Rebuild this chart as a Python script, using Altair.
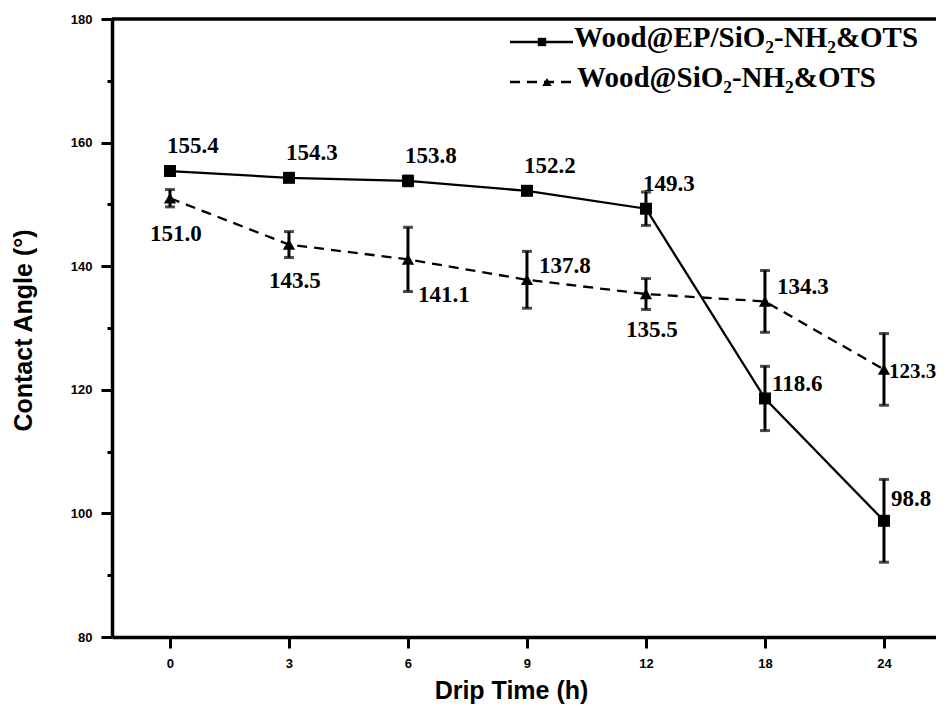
import altair as alt
import pandas as pd

# ---- data ----
times = ["0", "3", "6", "9", "12", "18", "24"]
series_names = ["Wood@EP/SiO₂-NH₂&OTS", "Wood@SiO₂-NH₂&OTS"]
s1_values = [155.4, 154.3, 153.8, 152.2, 149.3, 118.6, 98.8]
s1_errors = [0.5, 0.4, 0.8, 0.4, 2.7, 5.2, 6.7]
s2_values = [151.0, 143.5, 141.1, 137.8, 135.5, 134.3, 123.3]
s2_errors = [1.4, 2.1, 5.2, 4.6, 2.5, 5.0, 5.8]
y_ticks = [80, 90, 100, 110, 120, 130, 140, 150, 160, 170, 180]

rows = []
for name, vals, errs in [(series_names[0], s1_values, s1_errors),
                         (series_names[1], s2_values, s2_errors)]:
    for t, v, e in zip(times, vals, errs):
        rows.append({"series": name, "time": t, "value": v,
                     "lo": v - e, "hi": v + e, "label": f"{v:.1f}"})
df = pd.DataFrame(rows)
leg_df = pd.DataFrame({"series": series_names})

W, H = 824, 618
SERIF = "Liberation Serif"
SANS = "Liberation Sans"

x_enc = alt.X("time:O", sort=times,
              scale=alt.Scale(type="point", padding=0.4622, align=0.527),
              axis=alt.Axis(title="Drip Time (h)", labelAngle=0, titleX=399, titleY=61,
                            titleBaseline="alphabetic", titleFontSize=25,
                            labelPadding=9, tickSize=11))
y_scale = alt.Scale(domain=[80, 180], nice=False, zero=False)
y_enc = alt.Y("value:Q", scale=y_scale,
              axis=alt.Axis(title="Contact Angle (°)", values=y_ticks,
                            labelExpr="datum.value % 20 == 0 ? datum.label : ''",
                            tickSize={"condition": {"test": "datum.value % 20 == 0", "value": 11}, "value": 5},
                            labelPadding=9, titleX=-89, titleY=311, titleAngle=-90,
                            titleAlign="center", titleBaseline="middle"))

base = alt.Chart(df)
s1 = base.transform_filter(alt.datum.series == series_names[0])
s2 = base.transform_filter(alt.datum.series == series_names[1])

err_rule = base.mark_rule(color="black", strokeWidth=3).encode(
    x=x_enc, y=alt.Y("lo:Q", scale=y_scale), y2="hi:Q")
err_cap_lo = base.mark_tick(color="black", thickness=3, size=10).encode(
    x=x_enc, y=alt.Y("lo:Q", scale=y_scale))
err_cap_hi = base.mark_tick(color="black", thickness=3, size=10).encode(
    x=x_enc, y=alt.Y("hi:Q", scale=y_scale))

line1 = s1.mark_line(color="black", strokeWidth=2.3).encode(x=x_enc, y=y_enc)
line2 = s2.mark_line(color="black", strokeWidth=2.3, strokeDash=[10, 7]).encode(x=x_enc, y=y_enc)
pts1 = s1.mark_point(shape="square", filled=True, color="black", size=144, opacity=1).encode(x=x_enc, y=y_enc)
pts2 = s2.mark_point(shape="triangle-up", filled=True, color="black", size=150, opacity=1).encode(x=x_enc, y=y_enc)


def labels(src, keep, align, dx, dy, size=23):
    return src.transform_filter(alt.FieldOneOfPredicate(field="time", oneOf=keep)).mark_text(
        font=SERIF, fontWeight="bold", fontSize=size, color="black",
        align=align, baseline="middle", dx=dx, dy=dy).encode(
        x=x_enc, y=y_enc, text="label:N")


lab_layers = [
    labels(s1, ["0", "3", "6", "9", "12"], "left", -3, -25),
    labels(s1, ["18"], "left", 7, -14),
    labels(s1, ["24"], "left", 7, -22),
    labels(s2, ["0", "3", "12"], "center", 6, 36),
    labels(s2, ["6"], "left", 10, 36),
    labels(s2, ["9", "18"], "left", 12, -14),
    labels(s2, ["24"], "left", 5, 3, size=21),
]

# frame top
top_frame = alt.Chart(leg_df.head(1)).mark_rule(color="black", strokeWidth=3.5).encode(
    x=alt.value(0), x2=alt.value(W), y=alt.value(0))

# legend (drawn by hand)
leg = alt.Chart(leg_df)
l1 = leg.transform_filter(alt.datum.series == series_names[0])
l2 = leg.transform_filter(alt.datum.series == series_names[1])
leg_layers = [
    l1.mark_rule(color="black", strokeWidth=2.3).encode(x=alt.value(398), x2=alt.value(461), y=alt.value(23)),
    l1.mark_point(shape="square", filled=True, color="black", size=70, opacity=1).encode(
        x=alt.value(430), y=alt.value(23)),
    l1.mark_text(font=SERIF, fontWeight="bold", fontSize=29, align="left", baseline="alphabetic",
                 color="black").encode(x=alt.value(462), y=alt.value(28), text="series:N"),
    l2.mark_rule(color="black", strokeWidth=2.3, strokeDash=[10, 7]).encode(
        x=alt.value(398), x2=alt.value(463), y=alt.value(63)),
    l2.mark_point(shape="triangle-up", filled=True, color="black", size=90, opacity=1).encode(
        x=alt.value(435), y=alt.value(63)),
    l2.mark_text(font=SERIF, fontWeight="bold", fontSize=29, align="left", baseline="alphabetic",
                 color="black").encode(x=alt.value(465), y=alt.value(68), text="series:N"),
]

chart = alt.layer(
    err_rule, err_cap_lo, err_cap_hi, line1, line2, pts1, pts2,
    *lab_layers, top_frame, *leg_layers
).properties(
    width=W, height=H,
    autosize=alt.AutoSizeParams(type="none"),
    padding={"left": 104, "top": 11, "right": 0, "bottom": 67},
).configure_view(
    stroke="#9a9a9a", strokeWidth=1
).configure_axis(
    grid=False, domainColor="black", domainWidth=3.5, tickColor="black", tickWidth=3,
    labelFont=SANS, labelFontWeight="bold", labelFontSize=13, labelColor="black",
    titleFont=SANS, titleFontWeight="bold", titleFontSize=25, titleColor="black",
)

chart.save("out.html", embed_options={"renderer": "svg", "actions": False})
